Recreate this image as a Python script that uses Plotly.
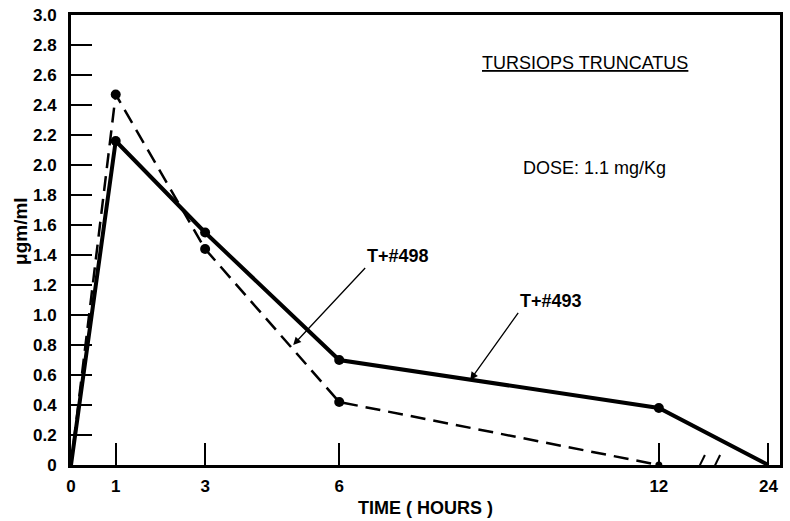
import numpy as np
import plotly.graph_objects as go

# time points (hours) and where each sits on the broken x axis
hours = [0, 1, 3, 6, 12, 24]
axis_pos = [0, 1, 3, 6, 13.15, 15.6]

# plasma level, ug/ml
t493_hours = [0, 1, 3, 6, 12, 24]
t493_vals = [0, 2.16, 1.55, 0.70, 0.38, 0]
t498_hours = [0, 1, 3, 6, 12]
t498_vals = [0, 2.47, 1.44, 0.42, 0]

y_ticks = [0, 0.2, 0.4, 0.6, 0.8, 1.0, 1.2, 1.4, 1.6, 1.8, 2.0, 2.2, 2.4, 2.6, 2.8, 3.0]
y_labels = ["0", "0.2", "0.4", "0.6", "0.8", "1.0", "1.2", "1.4", "1.6", "1.8",
            "2.0", "2.2", "2.4", "2.6", "2.8", "3.0"]


def xpos(h):
    return np.interp(h, hours, axis_pos)


FONT = "Liberation Sans"

fig = go.Figure()
fig.add_trace(go.Scatter(x=xpos(t498_hours), y=t498_vals, mode="lines+markers",
                         line=dict(color="black", width=2.5, dash="15px,8px"),
                         marker=dict(color="#000000", opacity=1, size=[0, 10, 10, 10, 7],
                                     line=dict(color="#000000", width=0)),
                         name="T+#498"))
fig.add_trace(go.Scatter(x=xpos(t493_hours), y=t493_vals, mode="lines+markers",
                         line=dict(color="black", width=4),
                         marker=dict(color="#000000", opacity=1, size=[0, 10, 10, 10, 10, 0],
                                     line=dict(color="#000000", width=0)),
                         name="T+#493"))

fig.update_xaxes(range=[0, 15.86], tickvals=axis_pos, ticktext=[str(h) for h in hours],
                 ticks="inside", ticklen=22, tickwidth=2, tickcolor="black",
                 showline=True, linecolor="black", linewidth=3, mirror=True,
                 showgrid=False, zeroline=False, automargin=False,
                 ticklabeloverflow="allow",
                 tickfont=dict(family=FONT, size=17, color="black", weight="bold"),
                 ticklabelstandoff=4)
fig.update_yaxes(range=[0, 3.0], tickvals=y_ticks, ticktext=y_labels,
                 ticks="inside", ticklen=21, tickwidth=2, tickcolor="black",
                 showline=True, linecolor="black", linewidth=3, mirror=True,
                 showgrid=False, zeroline=False, automargin=False,
                 ticklabeloverflow="allow",
                 tickfont=dict(family=FONT, size=17, color="black", weight="bold"),
                 ticklabelstandoff=8)

# axis break marks on the x axis
for x0 in [13.96, 14.3]:
    fig.add_shape(type="line", xref="x", yref="y", x0=x0, x1=x0 + 0.22, y0=-0.067, y1=0.067,
                  line=dict(color="black", width=2))

fig.add_annotation(text="<u>TURSIOPS TRUNCATUS</u>", x=0.725, y=0.893, xref="paper", yref="paper",
                   xanchor="center", yanchor="middle", showarrow=False,
                   font=dict(family=FONT, size=18, color="black"))
fig.add_annotation(text="DOSE: 1.1 mg/Kg", x=0.738, y=0.66, xref="paper", yref="paper",
                   xanchor="center", yanchor="middle", showarrow=False,
                   font=dict(family=FONT, size=18, color="black"))

fig.add_annotation(text="T+#498", x=4.97, y=0.80, xref="x", yref="y",
                   ax=72, ay=-77, showarrow=True, arrowhead=2, arrowsize=1.2, arrowwidth=1.3,
                   arrowcolor="black", xanchor="left", yanchor="bottom",
                   font=dict(family=FONT, size=18, color="black", weight="bold"))
fig.add_annotation(text="T+#493", x=8.93, y=0.567, xref="x", yref="y",
                   ax=48, ay=-67, showarrow=True, arrowhead=2, arrowsize=1.2, arrowwidth=1.3,
                   arrowcolor="black", xanchor="left", yanchor="bottom",
                   font=dict(family=FONT, size=18, color="black", weight="bold"))

fig.add_annotation(text="\u03bcgm/ml", x=-0.072, y=0.52, xref="paper", yref="paper",
                   textangle=-90, showarrow=False, xanchor="center", yanchor="middle",
                   font=dict(family=FONT, size=19, color="black", weight="bold"))
fig.add_annotation(text="TIME ( HOURS )", x=0.50, y=-0.096, xref="paper", yref="paper",
                   xanchor="center", yanchor="middle", showarrow=False,
                   font=dict(family=FONT, size=18, color="black", weight="bold"))

fig.update_layout(width=790, height=521, margin=dict(l=71, r=10, t=15, b=56),
                  plot_bgcolor="white", paper_bgcolor="white", showlegend=False)

# drop the default page margin so the figure sits at the window's top-left corner
fig.write_html("out.html", config={"displayModeBar": False},
               post_script="document.body.style.margin='0';")
